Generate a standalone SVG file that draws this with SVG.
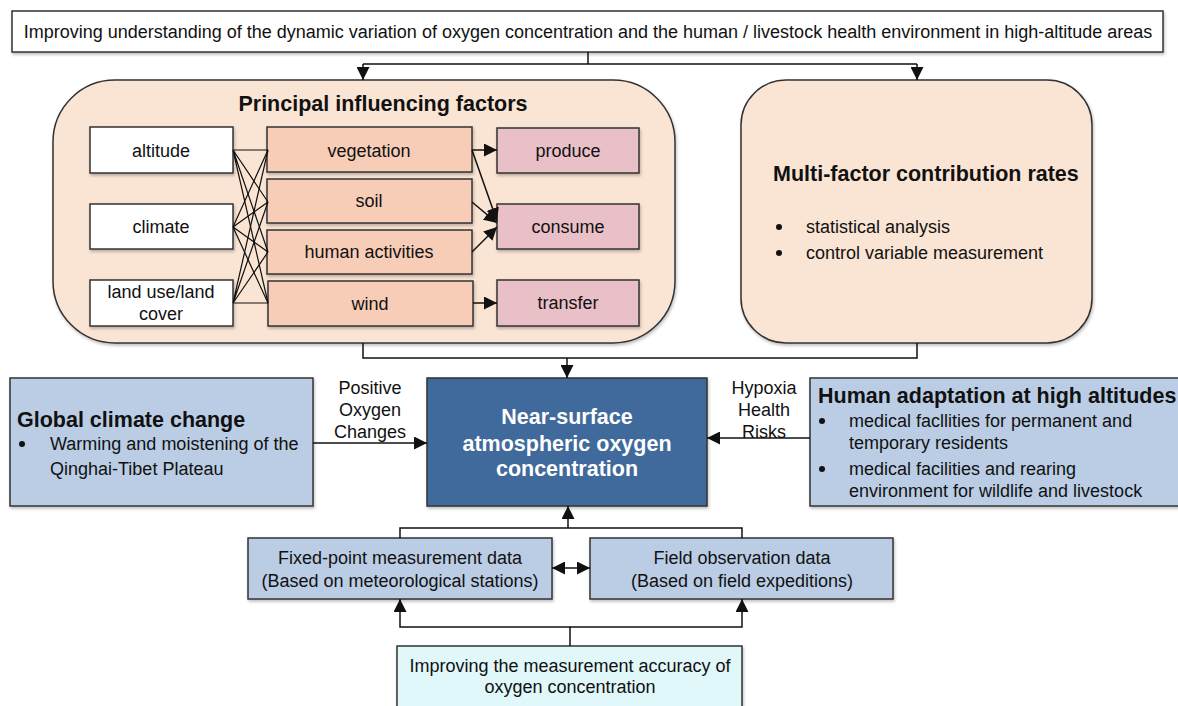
<svg xmlns="http://www.w3.org/2000/svg" width="1178" height="706" viewBox="0 0 1178 706">
<defs>
<marker id="arrL" viewBox="0 0 10 10" refX="10" refY="5" markerWidth="13" markerHeight="13" markerUnits="userSpaceOnUse" orient="auto-start-reverse"><path d="M0,0 L10,5 L0,10 z" fill="#111"/></marker>
<filter id="sh" x="-5%" y="-5%" width="110%" height="115%"><feDropShadow dx="1" dy="2" stdDeviation="1.5" flood-color="#000" flood-opacity="0.25"/></filter>
</defs>
<style>
text{font-family:"Liberation Sans",Arial,sans-serif;fill:#111;}
.t{font-size:18px;}
.h{font-size:21.5px;font-weight:bold;}
.c{text-anchor:middle;}
.box{stroke:#333;stroke-width:1.5;filter:url(#sh);}
.white{fill:#fff;}
.peach{fill:#fae4d4;}
.salmon{fill:#f7cdb8;}
.pink{fill:#e9bfc8;}
.blue{fill:#bacde5;}
.dark{fill:#3f6a9b;}
.cyan{fill:#e0f8fa;}
.ln{fill:none;stroke:#111;stroke-width:1.5;}
.thin{fill:none;stroke:#111;stroke-width:1.2;}
</style>
<rect width="1178" height="706" fill="#fff"/>

<g id="top">
<rect class="box white" x="12" y="11" width="1151" height="41"/>
<text class="t c" x="588" y="38">Improving understanding of the dynamic variation of oxygen concentration and the human / livestock health environment in high-altitude areas</text>
</g>

<g id="principal">
<rect class="box peach" x="53" y="80" width="622" height="263" rx="62" ry="62"/>
<text class="h c" x="383" y="111">Principal influencing factors</text>
</g>
<g id="altitude"><rect class="box white" x="90" y="127" width="143" height="46"/><text class="t c" x="161" y="157">altitude</text></g>
<g id="climate"><rect class="box white" x="90" y="204" width="143" height="45"/><text class="t c" x="161" y="233">climate</text></g>
<g id="landuse"><rect class="box white" x="90" y="280" width="143" height="46"/><text class="t c" x="161" y="298">land use/land</text><text class="t c" x="161" y="320">cover</text></g>
<g id="vegetation"><rect class="box salmon" x="267" y="127" width="205" height="45"/><text class="t c" x="369" y="157">vegetation</text></g>
<g id="soil"><rect class="box salmon" x="267" y="179" width="205" height="44"/><text class="t c" x="369" y="207">soil</text></g>
<g id="human"><rect class="box salmon" x="267" y="230" width="205" height="44"/><text class="t c" x="369" y="258">human activities</text></g>
<g id="wind"><rect class="box salmon" x="268" y="281" width="205" height="45"/><text class="t c" x="370" y="310">wind</text></g>
<g id="produce"><rect class="box pink" x="497" y="128" width="142" height="45"/><text class="t c" x="568" y="157">produce</text></g>
<g id="consume"><rect class="box pink" x="497" y="204" width="142" height="45"/><text class="t c" x="568" y="233">consume</text></g>
<g id="transfer"><rect class="box pink" x="497" y="280" width="142" height="46"/><text class="t c" x="568" y="309">transfer</text></g>

<g id="multifactor">
<rect class="box peach" x="741" y="80" width="351" height="263" rx="45" ry="45"/>
<text class="h" x="773" y="181">Multi-factor contribution rates</text>
<circle cx="779" cy="227" r="3" fill="#111"/><text class="t" x="806" y="233">statistical analysis</text>
<circle cx="779" cy="253" r="3" fill="#111"/><text class="t" x="806" y="259">control variable measurement</text>
</g>

<g id="global">
<rect class="box blue" x="10" y="378" width="303" height="128"/>
<text class="h" x="17" y="427">Global climate change</text>
<circle cx="22" cy="444" r="3" fill="#111"/>
<text class="t" x="50" y="450">Warming and moistening of the</text>
<text class="t" x="50" y="475">Qinghai-Tibet Plateau</text>
</g>

<g id="central">
<rect class="box dark" x="427" y="378" width="280" height="128"/>
<text class="h c" x="567" y="424" style="fill:#fff">Near-surface</text>
<text class="h c" x="567" y="451" style="fill:#fff">atmospheric oxygen</text>
<text class="h c" x="567" y="476" style="fill:#fff">concentration</text>
</g>

<g id="adaptation">
<rect class="box blue" x="810" y="378" width="380" height="128"/>
<text class="h" x="818" y="403">Human adaptation at high altitudes</text>
<circle cx="822" cy="421" r="3" fill="#111"/>
<text class="t" x="849" y="427">medical facllities for permanent and</text>
<text class="t" x="849" y="449">temporary residents</text>
<circle cx="822" cy="469" r="3" fill="#111"/>
<text class="t" x="849" y="475">medical facilities and rearing</text>
<text class="t" x="849" y="497">environment for wildlife and livestock</text>
</g>

<g id="fixed">
<rect class="box blue" x="248" y="538" width="304" height="61"/>
<text class="t c" x="400" y="564">Fixed-point measurement data</text>
<text class="t c" x="400" y="587">(Based on meteorological stations)</text>
</g>
<g id="field">
<rect class="box blue" x="590" y="538" width="303" height="61"/>
<text class="t c" x="742" y="564">Field observation data</text>
<text class="t c" x="742" y="587">(Based on field expeditions)</text>
</g>
<g id="accuracy">
<rect class="box cyan" x="397" y="646" width="345" height="70"/>
<text class="t c" x="570" y="672">Improving the measurement accuracy of</text>
<text class="t c" x="570" y="693">oxygen concentration</text>
</g>

<g id="labels">
<text class="t c" x="370" y="394">Positive</text>
<text class="t c" x="370" y="416">Oxygen</text>
<text class="t c" x="370" y="438">Changes</text>
<text class="t c" x="764" y="394">Hypoxia</text>
<text class="t c" x="764" y="416">Health</text>
<text class="t c" x="764" y="438">Risks</text>
</g>

<g id="connectors">
<path class="ln" d="M588,52 V64"/>
<path class="ln" d="M363,64 H917"/>
<path class="ln" d="M363,64 V80" marker-end="url(#arrL)"/>
<path class="ln" d="M917,64 V80" marker-end="url(#arrL)"/>

<path class="thin" d="M233,150 L268,150 M233,150 L268,202 M233,150 L268,252 M233,150 L268,303"/>
<path class="thin" d="M233,227 L268,150 M233,227 L268,202 M233,227 L268,252 M233,227 L268,303"/>
<path class="thin" d="M233,303 L268,150 M233,303 L268,202 M233,303 L268,252 M233,303 L268,303"/>

<path class="ln" d="M472,150 H497" marker-end="url(#arrL)"/>
<path class="ln" d="M473,303 H497" marker-end="url(#arrL)"/>
<path class="ln" d="M472,150 L497,221" marker-end="url(#arrL)"/>
<path class="ln" d="M472,202 L497,223" marker-end="url(#arrL)"/>
<path class="ln" d="M472,252 L497,227" marker-end="url(#arrL)"/>

<path class="ln" d="M363,343 V358 H917 V343"/>
<path class="ln" d="M567,358 V378" marker-end="url(#arrL)"/>

<path class="ln" d="M313,443 H427" marker-end="url(#arrL)"/>
<path class="ln" d="M810,438 H707" marker-end="url(#arrL)"/>

<path class="ln" d="M400,538 V528 H742 V538"/>
<path class="ln" d="M568,528 V506" marker-end="url(#arrL)"/>
<path class="ln" d="M552,568 H590" marker-start="url(#arrL)" marker-end="url(#arrL)"/>
<path class="ln" d="M570,646 V627 H400 V599" marker-end="url(#arrL)"/>
<path class="ln" d="M570,627 H742 V599" marker-end="url(#arrL)"/>
</g>
</svg>
